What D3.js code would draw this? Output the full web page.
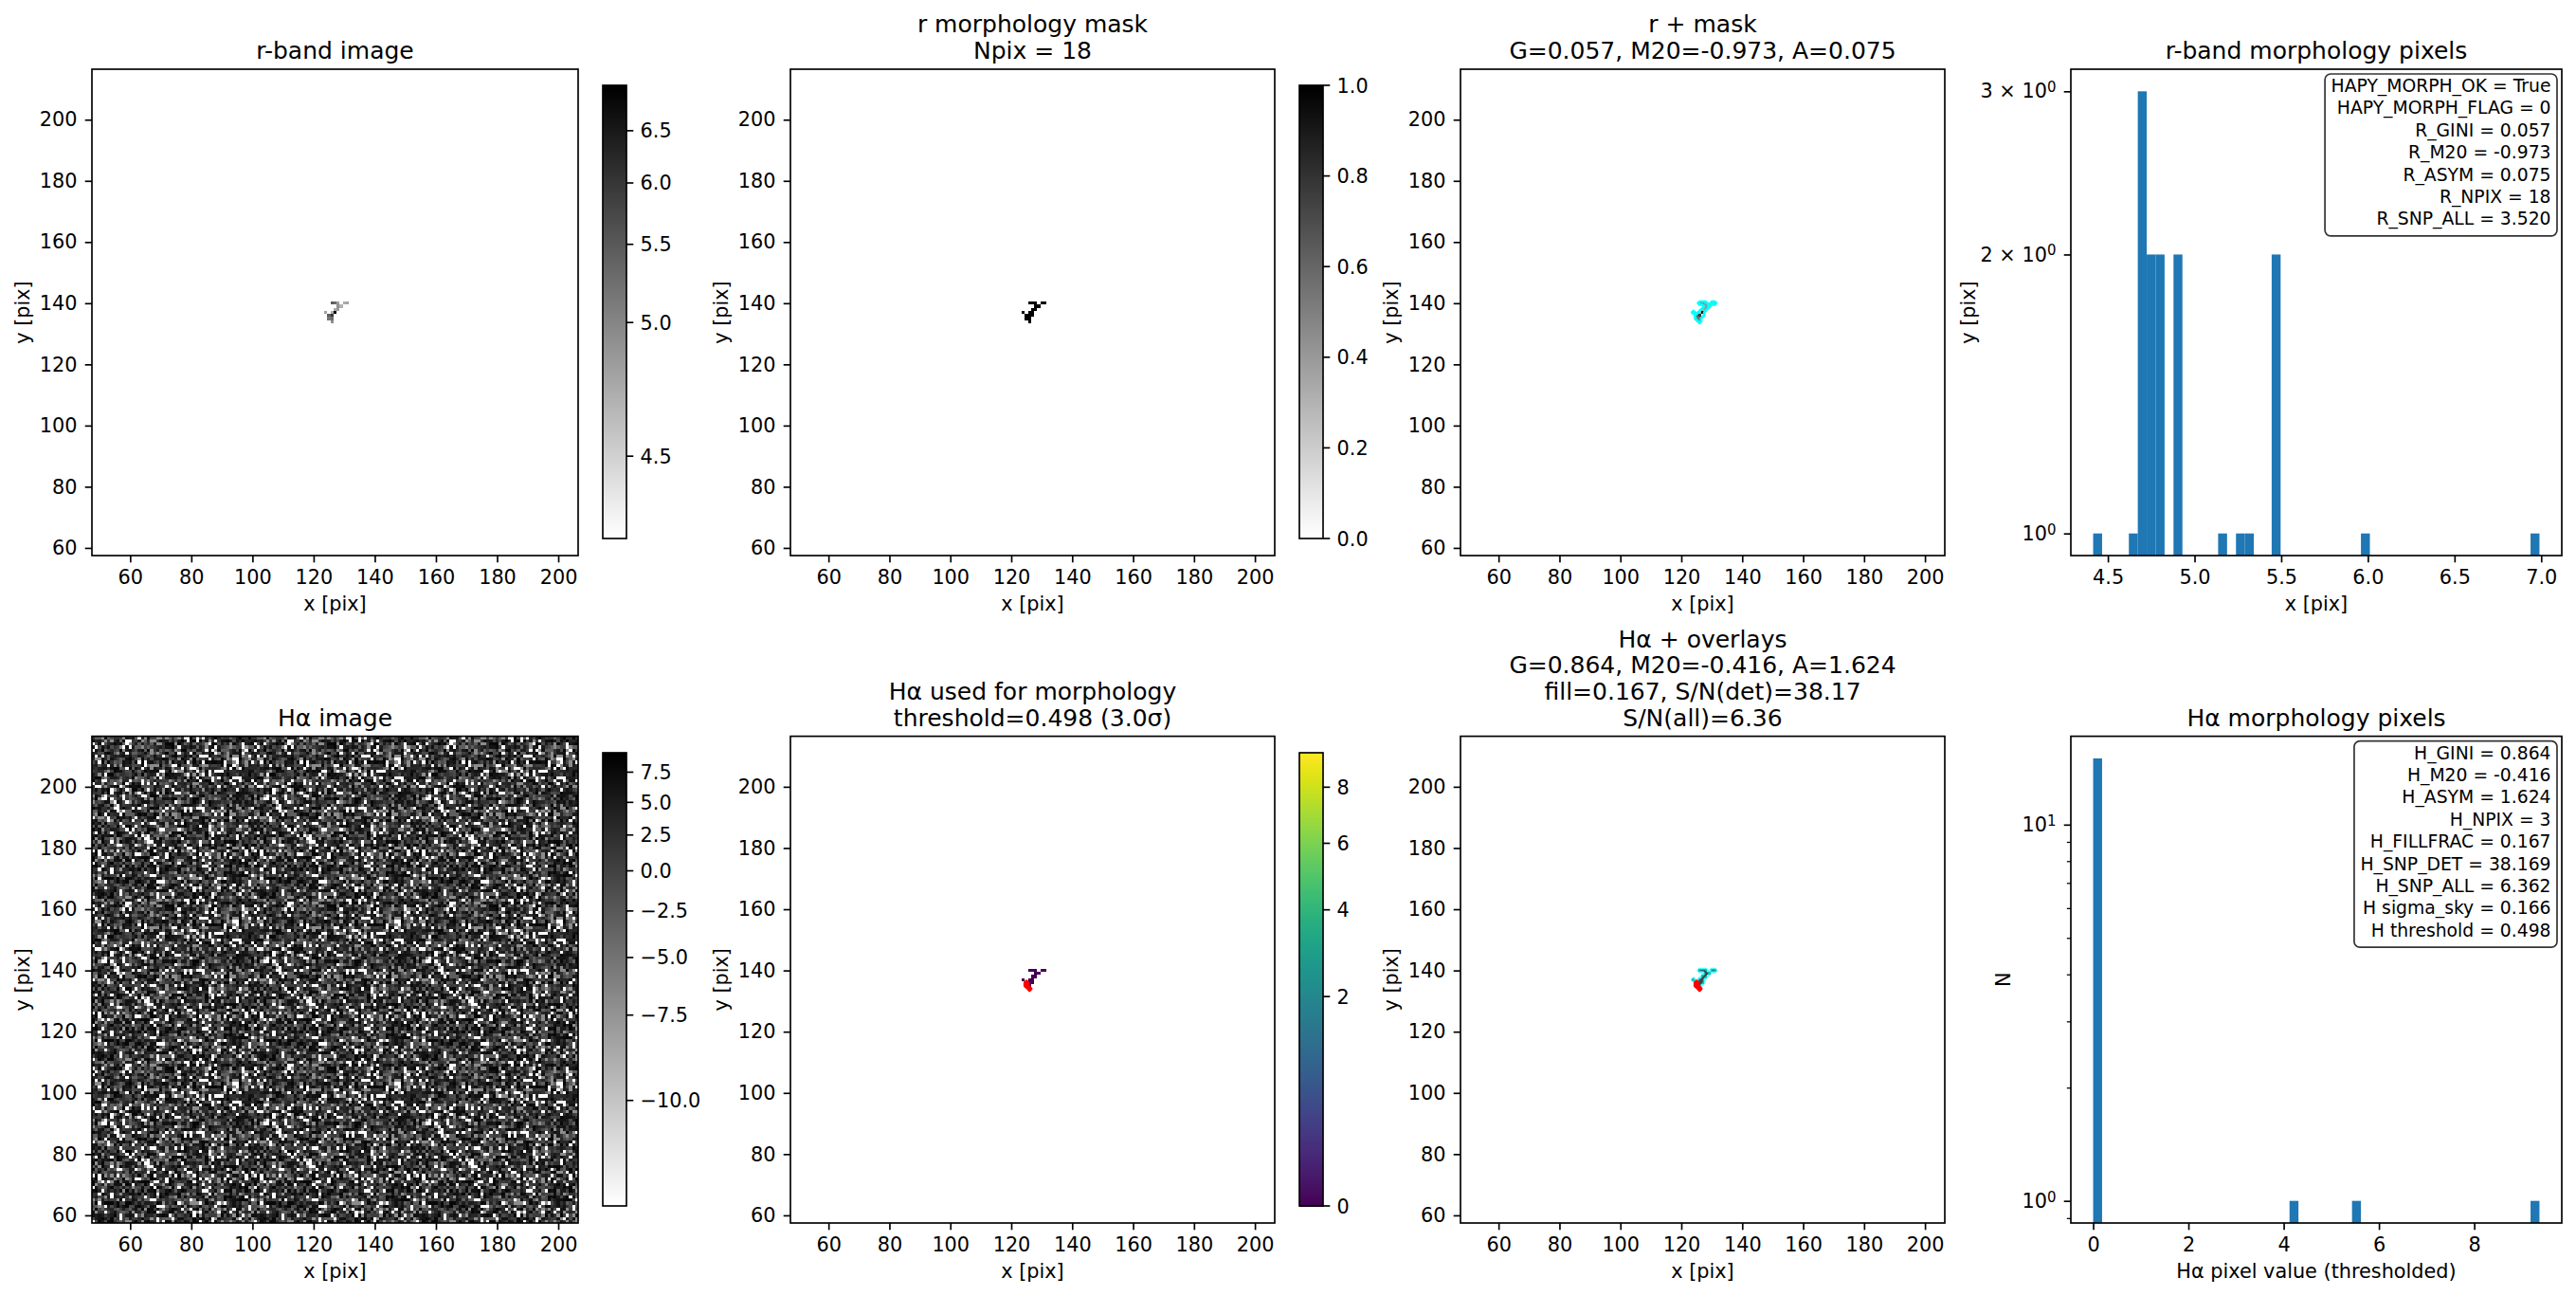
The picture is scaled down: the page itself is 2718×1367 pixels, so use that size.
<!DOCTYPE html>
<html><head><meta charset="utf-8">
<script src="https://cdn.jsdelivr.net/npm/d3@7"></script>
<style>
html,body{margin:0;padding:0;background:#fff}
text{font-family:"DejaVu Sans",sans-serif;fill:#000}
</style></head><body>
<svg id="c" width="2718" height="1367" xmlns="http://www.w3.org/2000/svg"></svg>
<script>
// ---------- data ----------
const maskCols = [126,127,128,130,131,128,129,127,128,124,126,127,125,126,127,125,126,126];
const maskRows = [140,140,140,140,140,139,139,138,138,137,137,137,136,136,136,135,135,134];
const rValues  = [5.47,5.31,4.80,4.70,4.75,4.905,4.647,4.70,4.80,4.75,4.70,6.99,5.47,5.98,4.415,5.16,5.26,4.905];
const hValues  = [0,0,0,0,0,0,0,0,0,0,0,0,4.22,0,0,5.54,0,9.37];
const histR    = rValues;
const histH    = hValues;
const imgXTicks = [60,80,100,120,140,160,180,200];
const imgYTicks = [60,80,100,120,140,160,180,200];
const rCbarTicks = [4.5,5,5.5,6,6.5];
const maskCbarTicks = [0,0.2,0.4,0.6,0.8,1];
const hCbarTicks = [-10,-7.5,-5,-2.5,0,2.5,5,7.5];
const vCbarTicks = [0,2,4,6,8];
const rHistXTicks = [4.5,5,5.5,6,6.5,7];
const hHistXTicks = [0,2,4,6,8];
const rHistYTicks = [1,2,3];
const rHistYLabels = ["10|0","2 × 10|0","3 × 10|0"];
const hHistYTicks = [1,10];
const hHistYLabels = ["10|0","10|1"];
const hHistYMinor = [0.9,2,3,4,5,6,7,8,9];
const rStats = ["HAPY_MORPH_OK = True","HAPY_MORPH_FLAG = 0","R_GINI = 0.057","R_M20 = -0.973","R_ASYM = 0.075","R_NPIX = 18","R_SNP_ALL = 3.520"];
const hStats = ["H_GINI = 0.864","H_M20 = -0.416","H_ASYM = 1.624","H_NPIX = 3","H_FILLFRAC = 0.167","H_SNP_DET = 38.169","H_SNP_ALL = 6.362","H sigma_sky = 0.166","H threshold = 0.498"];
// grey-level estimates for the Hα sky noise (digit = index into noiseLevels)
const noiseLevels = [-11.1,-7,-3,-1,0.5,2,3.5,5,6.5,8];
const noiseTile = [
"07938502697148036925870419638257094816375928401763958",
"58260974183659207481395026874139750286491730658294717",
"96401758329084756130928475601397284650719283604875192",
"23879015647398120569743081926457038192765840293176508",
"70518396824057691382470596318240967581302746985103649",
"85962740139682570413896275014938657290184375069281736",
"14370859626401983758029641738509246871935760428193870",
"69028371584930672185409387265014793826501479682350941",
"37819604257186340972856104397682510473968120587364295",
"90456187239750814369207548613092875641380529174906183",
"26703948516029387140596278309164587392016847259381760",
"58194076382641950738249605817394268075193486702915438",
"03867295140783926510487396021857439601728594360178926",
"79250618437096152783960412785630941827365109482675301",
"48136970528374069215873046192507386495012763859140762",
"65908213746190857436109572834961075283649702185396048",
"17429850367582041967320485967138250746983012574896213",
"82063749195760382814579601346258970135428679036152897",
"30971586240419675023864197580273614986205371948260735",
"96582017483265910748250369417689053821764095283617409",
"41738602959084237165094872315046897362150478936025186",
"07256984131670589342716058923489170625384719260843975",
"89314075628942160857392641078536204971863250794186302",
"52690738411035874296158703249681735029486107352964871",
"36048927158769302514867920134795860372195648201738596",
"71895260340182746093215847956023174856902371468509234",
"94062813577430958162047639185702468391706258934017682",
"20783546919658201374986102537849061725348096172485369",
"63519078242891765340278915460316892750413682059743108",
"48206197535067328914065387192648503971286405931872560",
"15974360826493051782639041758230967148520379168450293",
"87340259610728946351908274635199280641735806249317085",
"02681973454190373860521748096365748912063574186290947",
"59137806289642815907364152870941036287591430768215369",
"74025691383708264513098627541380195672489035216794801",
"36890147525916037248751093864272609814357162890543716",
"91462380707254981363069472185906743250819674302158693",
"28750936141683059724319058627413862059174328960417385",
"60319578247092846135874269031578410926385701642983057",
"45827109368531790642098351476092738156403928517630294",
"13965740282407635819264780913645092871367504829176038",
"79204683515869142307951628470381526904713286054197362",
"86531097423750298461038572916420785136982470315698201",
"02478916354183607925746039285167093425861709243856917",
"57390268140962478531682104759340861273095648102739586",
"34106857929378015642097836415298703561824963057192480",
"98725401367014592786341205968147260983715240896357012",
"21653890472869130574985627014792538601346978205416739",
"76049315288405726193067418529360184795207351984623850",
"43981726050137948620385976241805693127486059371208964",
"09537162843296015784129460873571209386547612038954176",
"62814095737580361942076513498026751849302967415830297",
"18270639454619087235840729163958042617386905274169583"
];
// ---------- layout ----------
const imgDomX = [47.5,206.5], imgDomY = [57.5,216.5];
const colL = [97,834,1541,2185], colR = [610,1345,2052,2703];
const rowT = [73,776.6], rowB = [586,1290];
const cbarL = [636,1371], cbarW = 25, cbarT = [90,794], cbarB = [568,1272];
const fs = 20.8, ts = 25, tick = 7.3, pad = 8.3, sw = 1.67;
const svg = d3.select("#c");
const minus = s => String(s).replace("-", "−");
const stretch = (lo,hi) => { const p = d3.scalePow().exponent(0.5).domain([0,hi-lo]).range([0,1]).clamp(true); return v => p(v-lo); };
const rNorm = stretch(4.415,6.99), hNorm = stretch(-11.1,9.2), vNorm = stretch(0,9.37);
const grayR = f => { const g = Math.round(255*(1-f)); return `rgb(${g},${g},${g})`; };
const pixels = (vals) => maskCols.map((c,i)=>({c, r:maskRows[i], v:vals[i]}));

function styleAxis(g){
  g.select(".domain").remove();
  g.selectAll(".tick line").attr("stroke","#000").attr("stroke-width",sw);
  g.selectAll(".tick text").attr("font-size",fs).attr("fill","#000");
}
function frame(g,l,t,w,h){ g.append("rect").attr("x",l).attr("y",t).attr("width",w).attr("height",h).attr("fill","none").attr("stroke","#000").attr("stroke-width",sw); }
function title(col,row,lines){
  const cx=(colL[col]+colR[col])/2, base=rowT[row]-11, n=lines.length;
  lines.forEach((s,i)=>svg.append("text").attr("x",cx).attr("y",base-(n-1-i)*27.7).attr("text-anchor","middle").attr("font-size",ts).text(s));
}
function labels(col,row,xl,yl,yx){
  const cx=(colL[col]+colR[col])/2, cy=(rowT[row]+rowB[row])/2;
  svg.append("text").attr("x",cx).attr("y",rowB[row]+58).attr("text-anchor","middle").attr("font-size",fs).text(xl);
  svg.append("text").attr("transform",`translate(${yx},${cy}) rotate(-90)`).attr("text-anchor","middle").attr("font-size",fs).text(yl);
}
function imgAxes(col,row){
  const l=colL[col],r=colR[col],t=rowT[row],b=rowB[row];
  const x=d3.scaleLinear().domain(imgDomX).range([l,r]), y=d3.scaleLinear().domain(imgDomY).range([b,t]);
  return {x,y,l,r,t,b};
}
function finishImg(a,col,row,yx){
  svg.append("g").attr("transform",`translate(0,${a.b})`).call(d3.axisBottom(a.x).tickValues(imgXTicks).tickSize(tick).tickPadding(pad)).call(styleAxis);
  svg.append("g").attr("transform",`translate(${a.l},0)`).call(d3.axisLeft(a.y).tickValues(imgYTicks).tickSize(tick).tickPadding(pad)).call(styleAxis);
  frame(svg,a.l,a.t,a.r-a.l,a.b-a.t);
  labels(col,row,"x [pix]","y [pix]",yx);
}
function drawCells(a,data,color){
  const g=svg.append("g").attr("shape-rendering","crispEdges");
  g.selectAll("rect").data(data).join("rect")
   .attr("x",d=>a.x(d.c-0.5)).attr("y",d=>a.y(d.r+0.5))
   .attr("width",d=>a.x(d.c+0.5)-a.x(d.c-0.5)).attr("height",d=>a.y(d.r-0.5)-a.y(d.r+0.5))
   .attr("fill",d=>color(d.v));
}
function contour(a,cols,rows,stroke,width,op){
  const nx=159, ny=159, x0=imgDomX[0], y0=imgDomY[0];
  const grid=new Array(nx*ny).fill(0);
  cols.forEach((c,i)=>{ grid[(rows[i]-58)*nx+(c-48)]=1; });
  const cs=d3.contours().size([nx,ny]).thresholds([0.5])(grid);
  const tr=d3.geoTransform({point(px,py){ this.stream.point(a.x(x0+px),a.y(y0+py)); }});
  svg.append("path").attr("d",d3.geoPath(tr)(cs[0])).attr("fill","none").attr("stroke",stroke).attr("stroke-width",width).attr("stroke-opacity",op).attr("stroke-linejoin","round");
}
function colorbar(ci,row,colorAt,pos,ticks,fmt){
  const l=cbarL[ci], t=cbarT[row], b=cbarB[row];
  const steps=d3.range(256);
  const py=d3.scaleLinear().domain([0,1]).range([b,t]);
  const g=svg.append("g").attr("shape-rendering","crispEdges");
  g.selectAll("rect").data(steps).join("rect")
   .attr("x",l).attr("width",cbarW)
   .attr("y",d=>py((d+1)/256)).attr("height",d=>py(d/256)-py((d+1)/256)+0.6)
   .attr("fill",d=>colorAt((d+0.5)/256));
  const tk=svg.append("g").selectAll("g").data(ticks).join("g").attr("transform",d=>`translate(${l+cbarW},${py(pos(d))})`);
  tk.append("line").attr("x2",tick).attr("stroke","#000").attr("stroke-width",sw);
  tk.append("text").attr("x",tick+7.3).attr("dy","0.36em").attr("font-size",fs).text(fmt);
  frame(svg,l,t,cbarW,b-t);
}
function statBox(col,row,lines){
  const r=colR[col]-5, t=rowT[row]+5, lh=23.4, px=6.5;
  const g=svg.append("g");
  const box=g.append("rect");
  const txt=g.selectAll("text").data(lines).join("text").attr("x",r-px).attr("y",(d,i)=>t+19+i*lh).attr("text-anchor","end").attr("font-size",18.75).text(d=>d);
  let w=0; txt.each(function(){ w=Math.max(w,this.getComputedTextLength()); });
  box.attr("x",r-2*px-w).attr("y",t).attr("width",2*px+w).attr("height",lines.length*lh+7).attr("rx",6).attr("ry",6)
     .attr("fill","#fff").attr("fill-opacity",0.85).attr("stroke","#000").attr("stroke-opacity",0.8).attr("stroke-width",1.7);
}
function supLabels(g,labs){
  g.selectAll(".tick text").each(function(d,i){
    const [a,b]=labs[i].split("|"), t=d3.select(this).text("");
    t.append("tspan").text(a);
    t.append("tspan").attr("dy","-0.42em").attr("font-size",fs*0.72).text(b);
  });
}
function hist(col,row,vals,xt,yt,yLab,yMinor,xl,yl,yx,fmtx){
  const l=colL[col],r=colR[col],t=rowT[row],b=rowB[row];
  const lo=d3.min(vals),hi=d3.max(vals),m=(hi-lo)*0.05;
  const x=d3.scaleLinear().domain([lo-m,hi+m]).range([l,r]);
  const bins=d3.bin().domain([lo,hi]).thresholds(d3.range(1,50).map(i=>lo+i*(hi-lo)/50))(vals).filter(d=>d.length>0);
  const top=d3.max(bins,d=>d.length), lm=Math.log10(top)*0.05;
  const y=d3.scaleLog().domain([Math.pow(10,-lm),Math.pow(10,Math.log10(top)+lm)]).range([b,t]);
  svg.append("g").selectAll("rect").data(bins).join("rect")
    .attr("x",d=>x(d.x0)).attr("width",d=>x(d.x1)-x(d.x0))
    .attr("y",d=>y(d.length)).attr("height",d=>b-y(d.length)).attr("fill","#1f77b4");
  svg.append("g").attr("transform",`translate(0,${b})`).call(d3.axisBottom(x).tickValues(xt).tickFormat(fmtx).tickSize(tick).tickPadding(pad)).call(styleAxis);
  svg.append("g").attr("transform",`translate(${l},0)`).call(d3.axisLeft(y).tickValues(yt).tickFormat(d=>d).tickSize(tick).tickPadding(pad)).call(styleAxis).call(supLabels,yLab);
  const mn=svg.append("g").attr("transform",`translate(${l},0)`).call(d3.axisLeft(y).tickValues(yMinor).tickFormat("").tickSize(4.2));
  mn.select(".domain").remove(); mn.selectAll(".tick line").attr("stroke","#000").attr("stroke-width",1.25);
  frame(svg,l,t,r-l,b-t);
  labels(col,row,xl,yl,yx);
}
const f1=d3.format(".1f");

// --- r-band image ---
{ const a=imgAxes(0,0); drawCells(a,pixels(rValues),v=>grayR(rNorm(v))); finishImg(a,0,0,31);
  colorbar(0,0,f=>grayR(f),rNorm,rCbarTicks,f1); title(0,0,["r-band image"]); }
// --- r mask ---
{ const a=imgAxes(1,0); drawCells(a,pixels(rValues.map(()=>1)),v=>grayR(v)); finishImg(a,1,0,768);
  colorbar(1,0,f=>grayR(f),v=>v,maskCbarTicks,f1); title(1,0,["r morphology mask","Npix = 18"]); }
// --- r + mask ---
{ const a=imgAxes(2,0); drawCells(a,pixels(rValues),v=>grayR(rNorm(v)));
  contour(a,maskCols,maskRows,"#00ffff",2.8,1); finishImg(a,2,0,1475);
  title(2,0,["r + mask","G=0.057, M20=-0.973, A=0.075"]); }
// --- r hist ---
hist(3,0,histR,rHistXTicks,rHistYTicks,rHistYLabels,[],"x [pix]","y [pix]",2084,f1);
statBox(3,0,rStats); title(3,0,["r-band morphology pixels"]);

// --- Hα image (texture block reused with scattered indexing, not per-cell readings) ---
{ const a=imgAxes(0,1); const cells=[];
  for(let r=0;r<159;r++) for(let c=0;c<159;c++){
    const row=noiseTile[(r*7+c*3)%noiseTile.length];
    cells.push({c:c+48,r:r+58,v:noiseLevels[+row[(c*11+r*5)%row.length]]});
  }
  drawCells(a,cells,v=>grayR(hNorm(v))); finishImg(a,0,1,31);
  colorbar(0,1,f=>grayR(f),hNorm,hCbarTicks,d=>minus(f1(d))); title(0,1,["Hα image"]); }
// --- Hα used ---
const hCols=maskCols.filter((c,i)=>hValues[i]>0), hRows=maskRows.filter((c,i)=>hValues[i]>0);
{ const a=imgAxes(1,1); drawCells(a,pixels(hValues),v=>d3.interpolateViridis(vNorm(v)));
  contour(a,hCols,hRows,"#ff0000",3.2,1); finishImg(a,1,1,768);
  colorbar(1,1,f=>d3.interpolateViridis(f),vNorm,vCbarTicks,d=>String(d));
  title(1,1,["Hα used for morphology","threshold=0.498 (3.0σ)"]); }
// --- Hα + overlays ---
{ const a=imgAxes(2,1); drawCells(a,pixels(hValues),v=>grayR(hNorm(v)));
  contour(a,maskCols,maskRows,"#00ffff",2.6,0.7); contour(a,hCols,hRows,"#ff0000",3.2,1); finishImg(a,2,1,1475);
  title(2,1,["Hα + overlays","G=0.864, M20=-0.416, A=1.624","fill=0.167, S/N(det)=38.17","S/N(all)=6.36"]); }
// --- Hα hist ---
hist(3,1,histH,hHistXTicks,hHistYTicks,hHistYLabels,hHistYMinor,"Hα pixel value (thresholded)","N",2121,d=>String(d));
statBox(3,1,hStats); title(3,1,["Hα morphology pixels"]);
</script>
</body></html>
